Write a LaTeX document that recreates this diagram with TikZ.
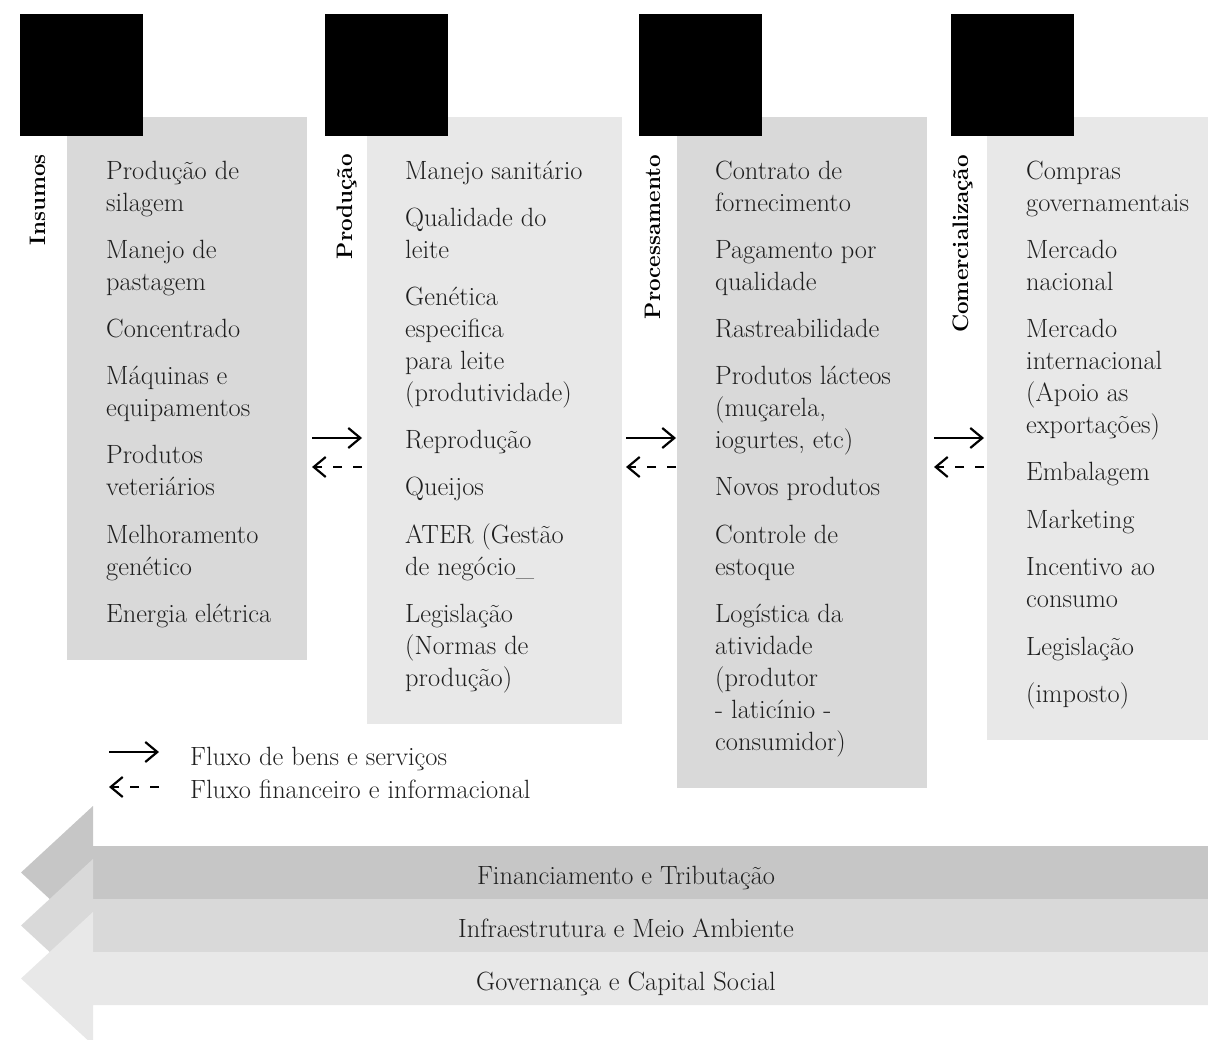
\documentclass[tikz,border=0pt]{standalone}
\usepackage{fontspec}
\usetikzlibrary{arrows.meta}
\definecolor{txt}{HTML}{1E1E1E}
\definecolor{pA}{HTML}{D9D9D9}
\definecolor{pB}{HTML}{E8E8E8}
\definecolor{bA}{HTML}{C6C6C6}
\begin{document}
\begin{tikzpicture}[x=1pt,y=-1pt,
  body/.style={anchor=base west, inner sep=0pt, text=txt, font=\fontsize{26.4}{32}\selectfont},
  band/.style={anchor=base, inner sep=0pt, text=txt, font=\fontsize{26.4}{32}\selectfont},
  stage/.style={anchor=base east, rotate=90, inner sep=0pt, text=black, font=\fontsize{22.4}{26}\selectfont\bfseries},
  panel/.style={anchor=north west, inner sep=0pt, outer sep=0pt, draw=none},
  blk/.style={anchor=north west, inner sep=0pt, outer sep=0pt, fill=black, minimum width=123pt, minimum height=122pt},
  flow/.style={line width=2.2pt, -{Straight Barb[length=12pt,width=20pt]}},
  fin/.style={flow, dash pattern=on 9pt off 11pt}]
\clip (0,0) rectangle (1208,1040);
\useasboundingbox (0,0) rectangle (1208,1040);

% panels
\node[panel, fill=pA, minimum width=240pt, minimum height=543pt] (p1) at (67,117) {};
\node[panel, fill=pB, minimum width=255pt, minimum height=607pt] (p2) at (367,117) {};
\node[panel, fill=pA, minimum width=250pt, minimum height=671pt] (p3) at (677,117) {};
\node[panel, fill=pB, minimum width=221pt, minimum height=623pt] (p4) at (987,117) {};

% black boxes
\node[blk] (b1) at (20,14) {};
\node[blk] (b2) at (325,14) {};
\node[blk] (b3) at (639,14) {};
\node[blk] (b4) at (951,14) {};

% stage labels
\node[stage] (s1) at (45,154) {Insumos};
\node[stage] (s2) at (352,154) {Produção};
\node[stage] (s3) at (660,155) {Processamento};
\node[stage] (s4) at (968,155) {Comercialização};

% column 1
\foreach \y/\t [count=\i] in {172/Produção de, 204/silagem, 251/Manejo de, 283/pastagem,
  330/Concentrado, 377/Máquinas e, 409/equipamentos, 456/Produtos, 488/veteriários,
  535/Melhoramento, 567/genético, 614/Energia elétrica}
  \node[body] (ca\i) at (106,\y+8) {\t};

% column 2
\foreach \y/\t [count=\i] in {172/Manejo sanitário, 219/Qualidade do, 251/leite, 298/Genética,
  330/especifica, 362/para leite, 394/(produtividade), 441/Reprodução, 488/Queijos,
  535/ATER (Gestão, 567/de negócio\_, 614/Legislação, 646/(Normas de, 678/produção)}
  \node[body] (cb\i) at (405,\y+8) {\t};

% column 3
\foreach \y/\t [count=\i] in {172/Contrato de, 204/fornecimento, 251/Pagamento por, 283/qualidade,
  330/Rastreabilidade, 377/Produtos lácteos, {409/(muçarela,}, {441/iogurtes, etc)},
  488/Novos produtos, 535/Controle de, 567/estoque, 614/Logística da, 646/atividade,
  678/(produtor, 710/- laticínio -, 742/consumidor)}
  \node[body] (cc\i) at (715,\y+8) {\t};

% column 4
\foreach \y/\t [count=\i] in {172/Compras, 204/governamentais, 251/Mercado, 283/nacional,
  330/Mercado, 362/internacional, 394/(Apoio as, 426/exportações), 473/Embalagem,
  520/Marketing, 567/Incentivo ao, 599/consumo, 647/Legislação, 694/(imposto)}
  \node[body] (cd\i) at (1026,\y+8) {\t};

% flow arrows between stages
\coordinate (fa1) at (312,438); \coordinate (fa2) at (362,438);
\coordinate (da1) at (362,467); \coordinate (da2) at (312,467);
\coordinate (fb1) at (626,438); \coordinate (fb2) at (676,438);
\coordinate (db1) at (676,467); \coordinate (db2) at (626,467);
\coordinate (fc1) at (934,438); \coordinate (fc2) at (984,438);
\coordinate (dc1) at (984,467); \coordinate (dc2) at (934,467);
\draw[flow] (fa1) -- (fa2);
\draw[fin] (da1) -- (da2);
\draw[flow] (fb1) -- (fb2);
\draw[fin] (db1) -- (db2);
\draw[flow] (fc1) -- (fc2);
\draw[fin] (dc1) -- (dc2);

% legend
\coordinate (la1) at (109,752); \coordinate (la2) at (159,752);
\coordinate (lb1) at (159,787); \coordinate (lb2) at (109,787);
\draw[flow] (la1) -- (la2);
\draw[fin] (lb1) -- (lb2);
\node[body] (lt1) at (190,765) {Fluxo de bens e serviços};
\node[body] (lt2) at (190,798) {Fluxo financeiro e informacional};

% bottom bands
\foreach \T/\c in {846/bA, 899/pA, 952/pB}
  \fill[\c] (1208,\T) -- (93,\T) -- (93,\T-40) -- (21,\T+26.5) -- (93,\T+93) -- (93,\T+53) -- (1208,\T+53) -- cycle;
\node[band] (g1) at (626,884) {Financiamento e Tributação};
\node[band] (g2) at (626,937) {Infraestrutura e Meio Ambiente};
\node[band] (g3) at (626,990) {Governança e Capital Social};
\end{tikzpicture}
\end{document}
